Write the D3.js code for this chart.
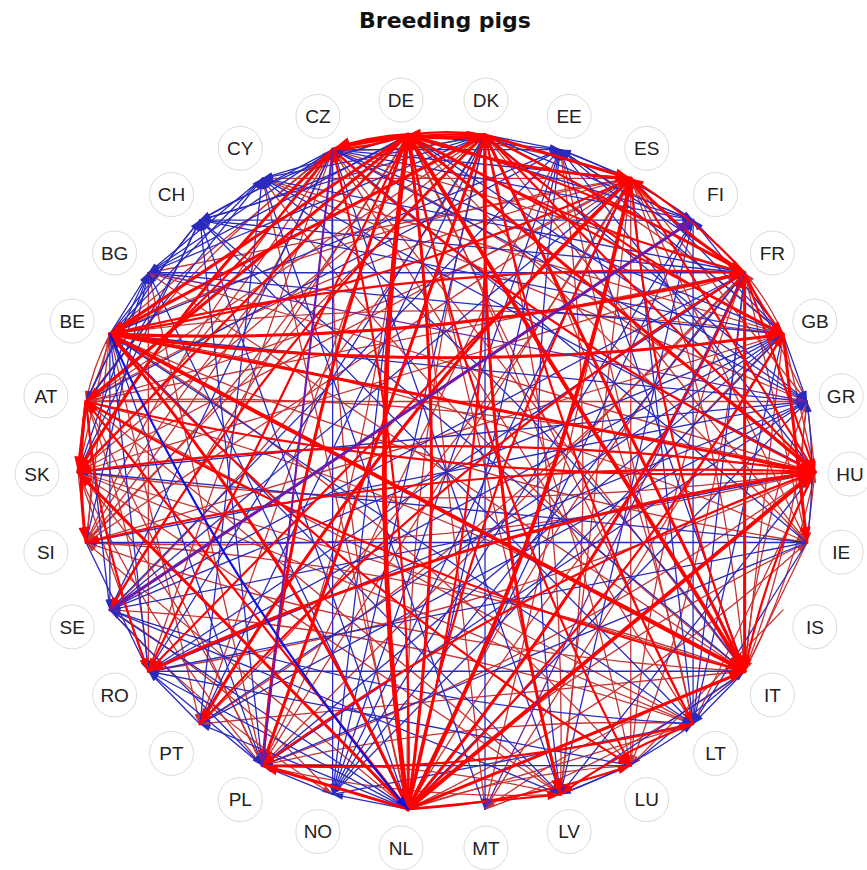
<!DOCTYPE html>
<html>
<head>
<meta charset="utf-8">
<script src="https://cdn.jsdelivr.net/npm/d3@7"></script>
<style>
  body { margin: 0; background: #fff; }
  svg { display: block; }
</style>
</head>
<body>
<svg id="chart" width="867" height="870"></svg>
<script>
// countries placed clockwise round the circle, AT at the left
const countries = ["AT","BE","BG","CH","CY","CZ","DE","DK","EE","ES","FI","FR","GB","GR","HU",
  "IE","IS","IT","LT","LU","LV","MT","NL","NO","PL","PT","RO","SE","SI","SK"];

// [from, to, weight] - red flows
const redLinks = [
  ["DE","NL",5],["DE","DK",4],["DE","CZ",4],["DE","IT",4],["DE","ES",3],["DE","BE",3],["DE","AT",3],
  ["DE","PL",3],["DE","HU",3],["DE","FR",2],["DE","GB",2],["DE","LU",2],["DE","SK",2],["DE","SI",1],
  ["DE","RO",2],["DE","LT",1],["DE","LV",1],["DE","PT",1],["DE","IE",1],["DE","SE",1],["DE","MT",1],
  ["NL","DE",3],["NL","ES",4],["NL","FR",3],["NL","HU",4],["NL","BE",3],["NL","IT",3],["NL","PL",3],
  ["NL","GB",2],["NL","DK",2],["NL","AT",2],["NL","CZ",2],["NL","SK",3],["NL","LV",2],["NL","LU",2],
  ["NL","LT",1],["NL","IE",1],["NL","SI",1],["NL","CY",1],
  ["DK","DE",2],["DK","PL",3],["DK","IT",3],["DK","BE",3],["DK","ES",3],["DK","LV",3],["DK","LT",2],
  ["DK","GB",2],["DK","HU",2],["DK","FR",2],["DK","CZ",2],["DK","AT",1],["DK","SK",1],["DK","SE",2],
  ["DK","IE",1],["DK","SI",1],["DK","NL",1],
  ["BE","IT",4],["BE","GB",3],["BE","FR",3],["BE","HU",3],["BE","ES",2],["BE","LU",2],["BE","AT",1],
  ["BE","SK",1],["BE","CZ",1],["BE","PT",1],["BE","SI",1],["BE","IE",1],
  ["ES","PT",3],["ES","FR",3],["ES","IT",2],["ES","HU",2],["ES","RO",2],["ES","BG",1],["ES","CY",1],
  ["ES","GR",1],["ES","PL",1],["ES","SK",1],["ES","AT",1],["ES","LV",1],["ES","NL",2],["ES","DE",1],
  ["ES","BE",1],["ES","LU",1],["ES","MT",1],["ES","SI",1],
  ["FR","IT",3],["FR","GB",2],["FR","HU",2],["FR","PT",2],["FR","IE",1],["FR","GR",1],["FR","SK",1],
  ["FR","PL",1],["FR","AT",1],["FR","LU",1],["FR","DE",2],["FR","BE",2],["FR","NL",1],["FR","ES",2],
  ["GB","IE",3],["GB","IT",1],["GB","HU",1],["GB","DK",1],["GB","FR",1],["GB","NL",1],["GB","BE",1],
  ["GB","CY",1],["GB","MT",1],["GB","SI",1],
  ["AT","SI",3],["AT","HU",2],["AT","IT",2],["AT","SK",3],["AT","CZ",2],["AT","GR",1],["AT","RO",2],
  ["AT","PL",1],["AT","BE",1],["AT","LT",1],["AT","LV",1],["AT","ES",1],
  ["HU","SK",2],["HU","RO",3],["HU","SI",2],["HU","IT",2],["HU","PL",2],["HU","BG",1],["HU","GR",1],
  ["HU","LT",1],["HU","IE",1],["HU","CZ",1],["HU","AT",1],
  ["CZ","SK",3],["CZ","HU",2],["CZ","IT",1],["CZ","SI",1],["CZ","RO",1],["CZ","LT",1],["CZ","FR",1],
  ["CZ","DE",2],["CZ","AT",1],["CZ","NL",1],["CZ","DK",1],
  ["SK","PL",1],["SK","SI",1],["SK","IT",1],["SK","RO",1],["SK","HU",1],["SK","CZ",1],["SK","LT",1],
  ["SK","LV",1],
  ["PL","LT",2],["PL","LV",1],["PL","HU",1],["PL","DE",1],["PL","SK",1],["PL","BG",1],["PL","EE",1],
  ["IT","SI",1],["IT","GR",1],["IT","MT",1],["IT","HU",1],["IT","ES",1],["IT","AT",1],["IT","PT",1],
  ["IT","BG",1],
  ["IE","NL",1],["IE","IT",1],["IE","ES",1],["IE","BE",1],
  ["LT","LV",2],["LT","DK",1],["LT","EE",1],["LT","SE",1],["LT","PL",1],
  ["LV","EE",1],["LV","DK",1],["LV","PL",1],
  ["SI","AT",1],["SI","HU",1],["SI","IT",1],["SI","CZ",1],["SI","DE",1],
  ["RO","HU",1],["RO","BG",1],["RO","AT",1],
  ["LU","FR",1],["LU","DE",1],["LU","BE",1],["LU","NL",1],
  ["PT","ES",1],["PT","FR",1],["SE","NO",1],["SE","DK",1],["NO","SE",1],
  ["GR","IE",1],["GR","IT",1],["IS","LU",1],["CY","GR",1],["CY","IT",1],["MT","IT",1],["EE","FI",1]
];

// [from, to, weight] - blue flows
const blueLinks = [
  ["BE","NL",2],["EE","LV",1],["BG","FR",1],["RO","IT",1],["CH","FI",1],
  ["DE","CH",1],["DE","FI",1],["DE","GR",1],["DE","CY",1],["DE","BG",1],["DE","EE",1],["DE","NO",1],
  ["NL","RO",1],["NL","BG",1],["NL","CH",1],["NL","GR",1],["NL","FI",1],["NL","PT",1],["NL","EE",1],
  ["NL","NO",1],["NL","SE",1],
  ["DK","FI",1],["DK","EE",1],["DK","NO",1],["DK","CH",1],["DK","BG",1],["DK","RO",1],["DK","GR",1],
  ["DK","CY",1],["DK","PT",1],["DK","MT",1],
  ["BE","RO",1],["BE","BG",1],["BE","CH",1],["BE","GR",1],["BE","LT",1],["BE","LV",1],["BE","PL",1],
  ["BE","SE",1],["BE","CY",1],["BE","EE",1],
  ["FR","RO",1],["FR","CH",1],["FR","LT",1],["FR","CY",1],["FR","SE",1],["FR","FI",1],["FR","EE",1],
  ["FR","NO",1],
  ["GB","PL",1],["GB","RO",1],["GB","ES",1],["GB","BG",1],["GB","CZ",1],["GB","LT",1],["GB","SE",1],
  ["GB","GR",1],["GB","PT",1],["GB","CH",1],["GB","FI",1],["GB","NO",1],["GB","EE",1],
  ["ES","CZ",1],["ES","LT",1],["ES","FI",1],["ES","SE",1],["ES","EE",1],["ES","NO",1],
  ["AT","BG",1],["AT","CH",1],["AT","CY",1],["AT","SE",1],["AT","EE",1],
  ["CZ","BG",1],["CZ","CH",1],["CZ","EE",1],["CZ","GR",1],["CZ","SE",1],["CZ","LV",1],["CZ","FI",1],
  ["CZ","NO",1],
  ["HU","SE",1],["HU","EE",1],["HU","LV",1],["HU","CY",1],
  ["IT","LT",1],["IT","LV",1],["IT","EE",1],["IT","CY",1],
  ["FI","EE",1],["FI","LT",1],["FI","NO",1],["FI","LV",1],
  ["SE","LT",1],["SE","EE",1],["SE","LV",1],["SE","PL",1],
  ["IE","PL",1],["IE","GR",1],["IE","LT",1],["IE","CZ",1],["IE","SK",1],["IE","RO",1],["IE","SI",1],
  ["SK","BG",1],["SK","GR",1],["SK","CH",1],
  ["PL","RO",1],["PL","CH",1],["PL","GR",1],["NO","PL",1],["NO","LT",1],["NO","EE",1],
  ["LV","LT",1],["LT","CH",1],["PT","RO",1],["PT","GR",1],["PT","CY",1],
  ["SI","RO",1],["SI","BG",1],["SI","GR",1],["LU","LV",1],["LU","PL",1],["LU","RO",1],["LU","IT",1],
  ["RO","GR",1],["CH","IT",1],["CH","AT",1],["CH","DE",1],["CY","BG",1],["MT","CY",1]
];

// [from, to, weight] - flows drawn in both colours (they come out purple)
const mixedLinks = [
  ["SE","FI",3],["CZ","PL",2],["FR","MT",1],["BG","GR",1]
];

const width = 867, height = 870;
const svg = d3.select("#chart");

const n = countries.length;
const angle = d3.scaleLinear().domain([0, n]).range([192, 552]); // degrees, clockwise on screen
const rad = d => angle(countries.indexOf(d)) * Math.PI / 180;

// node points (edges end here) and label circles sit on two ellipses
const node = { cx: 446.5, cy: 472, rx: 368.5, ry: 339 };
const lab = { cx: 443.5, cy: 474, rx: 406.5, ry: 376 };

const px = d => node.cx + node.rx * Math.cos(rad(d));
const py = d => node.cy + node.ry * Math.sin(rad(d));

const strokeW = d3.scaleLinear().domain([1, 5]).range([1.3, 4.8]);

// flows that go both ways are bent a little, like mutual edges in igraph
const allPairs = new Set(redLinks.concat(blueLinks, mixedLinks).map(d => d[0] + ">" + d[1]));
const bend = d => allPairs.has(d[1] + ">" + d[0]) ? 0.07 : 0;

function geom(d) {
  const x1 = px(d[0]), y1 = py(d[0]), x2 = px(d[1]), y2 = py(d[1]);
  const L = Math.hypot(x2 - x1, y2 - y1);
  const c = bend(d) * L;
  const qx = (x1 + x2) / 2 - (y2 - y1) / L * c;
  const qy = (y1 + y2) / 2 + (x2 - x1) / L * c;
  return { x1, y1, x2, y2, qx, qy };
}

svg.append("text")
  .attr("x", 445)
  .attr("y", 28)
  .attr("text-anchor", "middle")
  .style("font-family", "DejaVu Sans, sans-serif")
  .style("font-weight", "bold")
  .style("font-size", "22px")
  .attr("fill", "#111")
  .text("Breeding pigs");

const edges = svg.append("g");

function drawLinks(links, colorThin, colorThick, filter) {
  const data = links.filter(filter);
  const g = edges.append("g");
  g.selectAll("path.edge")
    .data(data)
    .enter().append("path")
    .attr("class", "edge")
    .attr("d", d => {
      const p = geom(d);
      return "M" + p.x1 + "," + p.y1 + "Q" + p.qx + "," + p.qy + " " + p.x2 + "," + p.y2;
    })
    .attr("fill", "none")
    .attr("stroke", d => d[2] > 1 ? colorThick : colorThin)
    .attr("stroke-width", d => strokeW(d[2]))
    .attr("stroke-linecap", "round");

  // arrow heads at the importing country
  g.selectAll("path.arrow")
    .data(data)
    .enter().append("path")
    .attr("class", "arrow")
    .attr("d", d => {
      const p = geom(d);
      const L = Math.hypot(p.x2 - p.qx, p.y2 - p.qy);
      const ux = (p.x2 - p.qx) / L, uy = (p.y2 - p.qy) / L;
      const len = 8 + d[2] * 2.5, hw = 2.2 + d[2] * 1.1;
      const bx = p.x2 - ux * len, by = p.y2 - uy * len;
      return "M" + p.x2 + "," + p.y2 +
        "L" + (bx - uy * hw) + "," + (by + ux * hw) +
        "L" + (bx + uy * hw) + "," + (by - ux * hw) + "Z";
    })
    .attr("fill", d => d[2] > 1 ? colorThick : colorThin);
}

drawLinks(redLinks, "#c83434", "#ff0000", d => d[2] === 1);
drawLinks(blueLinks, "#2a2abf", "#1010e0", d => d[2] === 1);
drawLinks(redLinks, "#c83434", "#ff0000", d => d[2] > 1);
drawLinks(mixedLinks, "#6e22a0", "#6e1aa8", d => true);
drawLinks(blueLinks, "#2a2abf", "#1010e0", d => d[2] > 1);

// labels
const labels = svg.append("g")
  .selectAll("g")
  .data(countries)
  .enter().append("g")
  .attr("transform", d => "translate(" + (lab.cx + lab.rx * Math.cos(rad(d))) + "," +
    (lab.cy + lab.ry * Math.sin(rad(d))) + ")");

labels.append("circle")
  .attr("r", 22)
  .attr("fill", "#fff")
  .attr("stroke", "#d9d9d9")
  .attr("stroke-width", 1);

labels.append("text")
  .attr("text-anchor", "middle")
  .attr("dy", "0.36em")
  .style("font-family", "Liberation Sans, Arial, sans-serif")
  .style("font-size", "19px")
  .attr("fill", "#222")
  .text(d => d);
</script>
</body>
</html>
